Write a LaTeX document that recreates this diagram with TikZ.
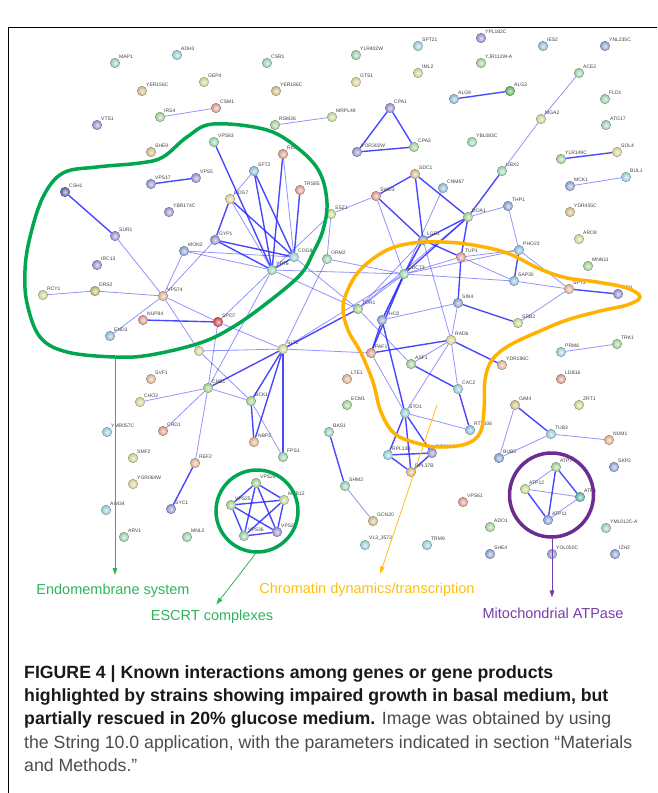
\documentclass[tikz,border=0pt]{standalone}
\usepackage{fontspec}
\setmainfont{Liberation Sans}
\usepackage{tikz}
\usetikzlibrary{arrows.meta}

\definecolor{edgeblue}{RGB}{40,40,255}
\definecolor{cmint}{HTML}{A3DBB8}
\definecolor{ccyan}{HTML}{9ED9E3}
\definecolor{ctan}{HTML}{DCC790}
\definecolor{cyg}{HTML}{CFE39A}
\definecolor{cgreen}{HTML}{ABDB9C}
\definecolor{csalmon}{HTML}{E6A394}
\definecolor{cslate}{HTML}{9A9ADB}
\definecolor{clblue}{HTML}{96C6E3}
\definecolor{cyellow}{HTML}{E3DE9F}
\definecolor{cpurple}{HTML}{A898DE}
\definecolor{cdblue}{HTML}{5A68B0}
\definecolor{cred}{HTML}{E04848}
\definecolor{cpeach}{HTML}{E9BC9C}
\definecolor{cdgreen}{HTML}{66BB66}
\definecolor{cteal}{HTML}{5FC0AE}
\definecolor{cblue}{HTML}{93A9DD}
\definecolor{colive}{HTML}{C9C275}
\definecolor{grpgreen}{RGB}{0,166,80}
\definecolor{grporange}{RGB}{255,179,0}
\definecolor{grppurple}{RGB}{108,45,145}
\definecolor{txtgreen}{RGB}{45,180,90}
\definecolor{txtorange}{RGB}{255,190,20}
\definecolor{txtpurple}{RGB}{120,60,170}

\pgfdeclarelayer{edges}
\pgfsetlayers{edges,main}

\begin{document}
\begin{tikzpicture}[x=1pt, y=-1pt,
    gene/.style={circle, minimum size=9.5pt, inner sep=0pt, line width=0.35pt,
        shading=radial, inner color=#1!30!white, outer color=#1!92!black, draw=#1!60!black},
    genename/.style={font=\fontsize{5}{5}\selectfont, text=black!75, inner sep=0.5pt},
    strong/.style={draw=edgeblue, line width=1.4pt, opacity=0.85},
    weak/.style={draw=edgeblue, line width=0.8pt, opacity=0.5},
    group/.style={line width=3.5pt},
    pointer/.style={line width=0.8pt, -{Triangle[length=7pt,width=4.5pt]}},
    tag/.style={font=\fontsize{14.5}{14.5}\selectfont, inner sep=0pt},
    caption/.style={font=\fontsize{17.7}{17.7}\selectfont, inner sep=0pt, anchor=base west}]
    \useasboundingbox (0,0) rectangle (657,793);

    % Frame
    \draw[black, line width=1pt] (8,793) -- (8,27) -- (657,27);

    % Nodes (left half)
    \node[gene=cmint, label={[genename]45:MAP1}] (map1) at (115,63) {};
    \node[gene=ccyan, label={[genename]45:ADH3}] (adh3) at (177,55) {};
    \node[gene=cmint, label={[genename]45:CSR1}] (csr1) at (267,63) {};
    \node[gene=ctan, label={[genename]45:YER156C}] (yer156c) at (142,91) {};
    \node[gene=cyg, label={[genename]45:GEP4}] (gep4) at (204,82) {};
    \node[gene=ctan, label={[genename]45:YER186C}] (yer186c) at (276,91) {};
    \node[gene=cgreen, label={[genename]45:IRS4}] (irs4) at (160,117) {};
    \node[gene=csalmon, label={[genename]45:CSM1}] (csm1) at (216,108) {};
    \node[gene=cslate, label={[genename]45:VTS1}] (vts1) at (97,125) {};
    \node[gene=cgreen, label={[genename]45:RSM26}] (rsm26) at (275,125) {};
    \node[gene=cmint, label={[genename]45:VPS63}] (vps63) at (214,142) {};
    \node[gene=ctan, label={[genename]45:SHE9}] (she9) at (151,152) {};
    \node[gene=csalmon, label={[genename]45:RIC1}] (ric1) at (283,154) {};
    \node[gene=clblue, label={[genename]45:SFT2}] (sft2) at (254,171) {};
    \node[gene=cslate, label={[genename]45:VPS17}] (vps17) at (151,184) {};
    \node[gene=cslate, label={[genename]45:VPS5}] (vps5) at (196,178) {};
    \node[gene=cdblue, label={[genename]45:CSH1}] (csh1) at (65,192) {};
    \node[gene=csalmon, label={[genename]45:TRS85}] (trs85) at (300,190) {};
    \node[gene=cyellow, label={[genename]45:COG7}] (cog7) at (230,199) {};
    \node[gene=cpurple, label={[genename]45:YBR174C}] (ybr174c) at (169,212) {};
    \node[gene=cslate, label={[genename]45:SUR1}] (sur1) at (115,236) {};
    \node[gene=cslate, label={[genename]45:GYP1}] (gyp1) at (215,240) {};
    \node[gene=cblue, label={[genename]45:MON2}] (mon2) at (184,251) {};
    \node[gene=ccyan, label={[genename]45:COG8}] (cog8) at (294,257) {};
    \node[gene=cmint, label={[genename]45:YPT6}] (ypt6) at (272,270) {};
    \node[gene=cslate, label={[genename]45:IRC13}] (irc13) at (97,265) {};
    \node[gene=cmint, label={[genename]45:ORM2}] (orm2) at (327,259) {};
    \node[gene=cyg, label={[genename]45:RCY1}] (rcy1) at (43,295) {};
    \node[gene=colive, label={[genename]45:DRS2}] (drs2) at (95,291) {};
    \node[gene=cpeach, label={[genename]45:VPS74}] (vps74) at (163,296) {};
    \node[gene=csalmon, label={[genename]45:NUP84}] (nup84) at (143,320) {};
    \node[gene=cred, label={[genename]45:SPO7}] (spo7) at (218,322) {};
    \node[gene=clblue, label={[genename]45:END3}] (end3) at (110,336) {};
    \node[gene=cyellow] (hidden) at (199,351) {};
    \node[gene=cyellow, label={[genename]45:SLT2}] (slt2) at (283,349) {};
    \node[gene=cpeach, label={[genename]45:SVF1}] (svf1) at (151,379) {};
    \node[gene=cgreen, label={[genename]45:CNB1}] (cnb1) at (208,388) {};
    \node[gene=cyellow, label={[genename]45:CHO2}] (cho2) at (140,402) {};
    \node[gene=cgreen, label={[genename]45:BCK1}] (bck1) at (251,401) {};
    \node[gene=ccyan, label={[genename]45:YMR057C}] (ymr057c) at (107,432) {};
    \node[gene=csalmon, label={[genename]45:CRD1}] (crd1) at (163,431) {};
    \node[gene=cpeach, label={[genename]45:NBP2}] (nbp2) at (254,442) {};
    \node[gene=cmint, label={[genename]45:FPS1}] (fps1) at (283,457) {};
    \node[gene=cyg, label={[genename]45:SMF2}] (smf2) at (133,458) {};
    \node[gene=cpeach, label={[genename]45:REF2}] (ref2) at (195,463) {};
    \node[gene=cgreen, label={[genename]45:VPS24}] (vps24) at (256,483) {};
    \node[gene=cyellow, label={[genename]45:YGR064W}] (ygr064w) at (133,484) {};
    \node[gene=cyg, label={[genename]45:MVB12}] (mvb12) at (284,500) {};
    \node[gene=cgreen, label={[genename]45:VPS25}] (vps25) at (231,505) {};
    \node[gene=ccyan, label={[genename]45:AIM34}] (aim34) at (106,510) {};
    \node[gene=cslate, label={[genename]45:SYC1}] (syc1) at (171,509) {};
    \node[gene=cmint, label={[genename]45:VPS36}] (vps36) at (244,536) {};
    \node[gene=cslate, label={[genename]45:VPS28}] (vps28) at (277,532) {};
    \node[gene=cmint, label={[genename]45:ARV1}] (arv1) at (124,537) {};
    \node[gene=cmint, label={[genename]45:MNL2}] (mnl2) at (187,537) {};

    % Nodes (right half)
    \node[gene=cslate, label={[genename]45:YPL182C}] (ypl182c) at (481,38) {};
    \node[gene=ccyan, label={[genename]45:SPT21}] (spt21) at (418,46) {};
    \node[gene=clblue, label={[genename]45:IES2}] (ies2) at (543,46) {};
    \node[gene=cblue, label={[genename]45:YNL235C}] (ynl235c) at (605,46) {};
    \node[gene=cmint, label={[genename]45:YLR402W}] (ylr402w) at (356,55) {};
    \node[gene=cgreen, label={[genename]45:YJR112W-A}] (yjr112wa) at (481,63) {};
    \node[gene=cyg, label={[genename]45:IML2}] (iml2) at (418,73) {};
    \node[gene=cmint, label={[genename]45:ACE2}] (ace2) at (579,73) {};
    \node[gene=cyellow, label={[genename]45:GTS1}] (gts1) at (356,82) {};
    \node[gene=clblue, label={[genename]45:ALG9}] (alg9) at (454,99) {};
    \node[gene=cdgreen, label={[genename]45:ALG3}] (alg3) at (510,91) {};
    \node[gene=cmint, label={[genename]45:FLD1}] (fld1) at (605,99) {};
    \node[gene=cslate, label={[genename]45:CPA1}] (cpa1) at (390,108) {};
    \node[gene=cyg, label={[genename]45:MRPL49}] (mrpl49) at (332,117) {};
    \node[gene=cyg, label={[genename]45:MGA2}] (mga2) at (541,119) {};
    \node[gene=cmint, label={[genename]45:ATG17}] (atg17) at (606,125) {};
    \node[gene=cgreen, label={[genename]45:CPA2}] (cpa2) at (414,147) {};
    \node[gene=cslate, label={[genename]45:YOR302W}] (yor302w) at (357,152) {};
    \node[gene=cmint, label={[genename]45:YBL083C}] (ybl083c) at (472,142) {};
    \node[gene=cgreen, label={[genename]45:YLR149C}] (ylr149c) at (561,159) {};
    \node[gene=cyellow, label={[genename]45:SOL4}] (sol4) at (617,152) {};
    \node[gene=cmint, label={[genename]45:UBX2}] (ubx2) at (502,171) {};
    \node[gene=ctan, label={[genename]45:SDC1}] (sdc1) at (415,174) {};
    \node[gene=clblue, label={[genename]45:CNM67}] (cnm67) at (443,188) {};
    \node[gene=ccyan, label={[genename]45:BUL1}] (bul1) at (626,177) {};
    \node[gene=cblue, label={[genename]45:MCK1}] (mck1) at (570,186) {};
    \node[gene=csalmon, label={[genename]45:SWD3}] (swd3) at (376,196) {};
    \node[gene=cyg, label={[genename]45:SSZ1}] (ssz1) at (331,214) {};
    \node[gene=cblue, label={[genename]45:THP1}] (thp1) at (508,206) {};
    \node[gene=cgreen, label={[genename]45:DOA1}] (doa1) at (468,217) {};
    \node[gene=ctan, label={[genename]45:YDR455C}] (ydr455c) at (570,212) {};
    \node[gene=cblue, label={[genename]45:LGE1}] (lge1) at (423,240) {};
    \node[gene=clblue, label={[genename]45:PHO23}] (pho23) at (519,250) {};
    \node[gene=cyellow, label={[genename]45:ARO8}] (aro8) at (579,239) {};
    \node[gene=csalmon, label={[genename]45:TUP1}] (tup1) at (461,257) {};
    \node[gene=cgreen, label={[genename]45:MNN11}] (mnn11) at (588,266) {};
    \node[gene=cmint, label={[genename]45:CDC73}] (cdc73) at (404,274) {};
    \node[gene=clblue, label={[genename]45:SAP30}] (sap30) at (514,281) {};
    \node[gene=cpeach, label={[genename]45:SPT3}] (spt3) at (569,289) {};
    \node[gene=cslate, label={[genename]45:HFI1}] (hfi1) at (618,294) {};
    \node[gene=cblue, label={[genename]45:SIN4}] (sin4) at (458,303) {};
    \node[gene=cgreen, label={[genename]45:TOR1}] (tor1) at (358,309) {};
    \node[gene=cblue, label={[genename]45:THO2}] (tho2) at (382,320) {};
    \node[gene=cyg, label={[genename]45:SRB2}] (srb2) at (518,323) {};
    \node[gene=cyellow, label={[genename]45:RAD6}] (rad6) at (451,340) {};
    \node[gene=cgreen, label={[genename]45:TRK1}] (trk1) at (617,344) {};
    \node[gene=ccyan, label={[genename]45:PRM6}] (prm6) at (561,352) {};
    \node[gene=csalmon, label={[genename]45:PAF1}] (paf1) at (371,353) {};
    \node[gene=cgreen, label={[genename]45:ASF1}] (asf1) at (411,364) {};
    \node[gene=cpeach, label={[genename]45:YDR186C}] (ydr186c) at (502,365) {};
    \node[gene=cpeach, label={[genename]45:LTE1}] (lte1) at (347,379) {};
    \node[gene=csalmon, label={[genename]45:LDB16}] (ldb16) at (561,379) {};
    \node[gene=ccyan, label={[genename]45:CAC2}] (cac2) at (458,389) {};
    \node[gene=cgreen, label={[genename]45:ECM1}] (ecm1) at (347,405) {};
    \node[gene=ctan, label={[genename]45:GIM4}] (gim4) at (515,405) {};
    \node[gene=cyg, label={[genename]45:ZRT1}] (zrt1) at (579,405) {};
    \node[gene=ccyan, label={[genename]45:STO1}] (sto1) at (405,413) {};
    \node[gene=cmint, label={[genename]45:BAS1}] (bas1) at (329,432) {};
    \node[gene=clblue, label={[genename]45:RTT106}] (rtt106) at (470,430) {};
    \node[gene=ccyan, label={[genename]45:TUB3}] (tub3) at (551,434) {};
    \node[gene=cpeach, label={[genename]45:NUM1}] (num1) at (609,440) {};
    \node[gene=ccyan, label={[genename]45:RPL13B}] (rpl13b) at (388,455) {};
    \node[gene=cslate, label={[genename]45:RPS10A}] (rps10a) at (432,453) {};
    \node[gene=cblue, label={[genename]45:BUB3}] (bub3) at (499,458) {};
    \node[gene=cblue, label={[genename]45:SKP2}] (skp2) at (614,467) {};
    \node[gene=cgreen, label={[genename]45:ATP7}] (atp7) at (556,467) {};
    \node[gene=ctan, label={[genename]45:RPL37B}] (rpl37b) at (411,472) {};
    \node[gene=cmint, label={[genename]45:SHM2}] (shm2) at (345,486) {};
    \node[gene=cyg, label={[genename]45:ATP12}] (atp12) at (525,489) {};
    \node[gene=cteal, label={[genename]45:ATP1}] (atp1) at (580,497) {};
    \node[gene=csalmon, label={[genename]45:VPS61}] (vps61) at (463,502) {};
    \node[gene=cblue, label={[genename]45:ATP11}] (atp11) at (548,520) {};
    \node[gene=ctan, label={[genename]45:GCN20}] (gcn20) at (373,521) {};
    \node[gene=cgreen, label={[genename]45:ADO1}] (ado1) at (490,527) {};
    \node[gene=cmint, label={[genename]45:YML012C-A}] (yml012ca) at (606,528) {};
    \node[gene=ccyan, label={[genename]45:VL3\_3573}] (vl3) at (365,545) {};
    \node[gene=ccyan, label={[genename]45:TRM9}] (trm9) at (427,545) {};
    \node[gene=cblue, label={[genename]45:SHE4}] (she4) at (490,554) {};
    \node[gene=cblue, label={[genename]45:YOL050C}] (yol050c) at (552,554) {};
    \node[gene=cblue, label={[genename]45:IZH2}] (izh2) at (615,554) {};

    % Edges
    \begin{pgfonlayer}{edges}
    \draw[weak] (irs4) -- (csm1);
    \draw[weak] (rsm26) -- (mrpl49);
    \draw[strong] (vps17) -- (vps5);
    \draw[strong] (alg9) -- (alg3);
    \draw[strong] (cpa1) -- (cpa2);
    \draw[strong] (cpa1) -- (yor302w);
    \draw[strong] (yor302w) -- (cpa2);
    \draw[weak] (ace2) -- (mga2);
    \draw[weak] (mga2) -- (ubx2);
    \draw[strong] (ubx2) -- (doa1);
    \draw[strong] (ylr149c) -- (sol4);
    \draw[weak] (mck1) -- (bul1);
    \draw[weak] (prm6) -- (trk1);
    \draw[strong] (bas1) -- (shm2);
    \draw[weak] (shm2) -- (gcn20);
    \draw[strong] (csh1) -- (sur1);
    \draw[weak] (sur1) -- (vps74);
    \draw[weak] (rcy1) -- (drs2);
    \draw[weak] (drs2) -- (vps74);
    \draw[weak] (vps74) -- (mon2);
    \draw[weak] (vps74) -- (gyp1);
    \draw[weak] (vps74) -- (end3);
    \draw[weak] (vps74) -- (spo7);
    \draw[weak] (vps74) -- (hidden);
    \draw[strong] (nup84) -- (spo7);
    \draw[weak] (spo7) -- (ypt6);
    \draw[weak] (spo7) -- (slt2);
    \draw[weak] (spo7) -- (cnb1);
    \draw[weak] (hidden) -- (slt2);
    \draw[weak] (hidden) -- (bck1);
    \draw[weak] (slt2) -- (paf1);
    \draw[weak] (cnb1) -- (cho2);
    \draw[weak] (cnb1) -- (bck1);
    \draw[strong] (cnb1) -- (slt2);
    \draw[weak] (cnb1) -- (crd1);
    \draw[weak] (cnb1) -- (ref2);
    \draw[weak] (cnb1) -- (ypt6);
    \draw[strong] (ref2) -- (syc1);
    \draw[strong] (slt2) -- (bck1);
    \draw[strong] (slt2) -- (nbp2);
    \draw[strong] (slt2) -- (fps1);
    \draw[strong] (bck1) -- (nbp2);
    \draw[weak] (bck1) -- (fps1);
    \draw[strong] (slt2) -- (tor1);
    \draw[weak] (slt2) -- (cdc73);
    \draw[weak] (orm2) -- (slt2);
    \draw[strong] (vps63) -- (ypt6);
    \draw[weak] (sft2) -- (cog7);
    \draw[strong] (sft2) -- (ypt6);
    \draw[strong] (sft2) -- (cog8);
    \draw[strong] (ric1) -- (ypt6);
    \draw[weak] (ric1) -- (cog8);
    \draw[strong] (trs85) -- (cog8);
    \draw[strong] (cog7) -- (gyp1);
    \draw[strong] (cog7) -- (cog8);
    \draw[weak] (cog7) -- (ypt6);
    \draw[strong] (gyp1) -- (ypt6);
    \draw[strong] (gyp1) -- (cog8);
    \draw[weak] (mon2) -- (cog8);
    \draw[weak] (mon2) -- (ypt6);
    \draw[strong] (cog8) -- (ypt6);
    \draw[weak] (ssz1) -- (ypt6);
    \draw[weak] (ssz1) -- (orm2);
    \draw[weak] (ssz1) -- (swd3);
    \draw[weak] (ypt6) -- (tor1);
    \draw[weak] (ypt6) -- (cdc73);
    \draw[weak] (cog8) -- (tor1);
    \draw[weak] (orm2) -- (cdc73);
    \draw[strong] (swd3) -- (sdc1);
    \draw[strong] (swd3) -- (lge1);
    \draw[weak] (swd3) -- (cdc73);
    \draw[strong] (sdc1) -- (lge1);
    \draw[strong] (sdc1) -- (doa1);
    \draw[weak] (cnm67) -- (cdc73);
    \draw[strong] (doa1) -- (lge1);
    \draw[strong] (doa1) -- (cdc73);
    \draw[strong] (doa1) -- (tup1);
    \draw[weak] (doa1) -- (tor1);
    \draw[weak] (doa1) -- (thp1);
    \draw[strong] (lge1) -- (tup1);
    \draw[strong] (lge1) -- (cdc73);
    \draw[weak] (lge1) -- (rad6);
    \draw[weak] (lge1) -- (tor1);
    \draw[weak] (lge1) -- (tho2);
    \draw[weak] (tup1) -- (cdc73);
    \draw[strong] (tup1) -- (sin4);
    \draw[weak] (tup1) -- (pho23);
    \draw[weak] (tup1) -- (sap30);
    \draw[weak] (thp1) -- (pho23);
    \draw[strong] (pho23) -- (sap30);
    \draw[weak] (pho23) -- (spt3);
    \draw[weak] (cdc73) -- (pho23);
    \draw[weak] (cdc73) -- (sap30);
    \draw[weak] (sap30) -- (spt3);
    \draw[strong] (spt3) -- (hfi1);
    \draw[weak] (spt3) -- (srb2);
    \draw[strong] (sin4) -- (srb2);
    \draw[weak] (sin4) -- (rad6);
    \draw[weak] (sin4) -- (tho2);
    \draw[strong] (cdc73) -- (tho2);
    \draw[weak] (cdc73) -- (tor1);
    \draw[strong] (cdc73) -- (paf1);
    \draw[strong] (tho2) -- (paf1);
    \draw[strong] (tho2) -- (sto1);
    \draw[weak] (tor1) -- (asf1);
    \draw[strong] (rad6) -- (paf1);
    \draw[weak] (rad6) -- (asf1);
    \draw[weak] (rad6) -- (cac2);
    \draw[weak] (rad6) -- (sto1);
    \draw[strong] (rad6) -- (ydr186c);
    \draw[strong] (asf1) -- (cac2);
    \draw[strong] (cac2) -- (rtt106);
    \draw[weak] (sto1) -- (rtt106);
    \draw[weak] (paf1) -- (sto1);
    \draw[strong] (sto1) -- (rpl13b);
    \draw[strong] (sto1) -- (rps10a);
    \draw[strong] (sto1) -- (rpl37b);
    \draw[strong] (rpl13b) -- (rps10a);
    \draw[strong] (rpl13b) -- (rpl37b);
    \draw[strong] (rps10a) -- (rpl37b);
    \draw[strong] (gim4) -- (tub3);
    \draw[weak] (gim4) -- (bub3);
    \draw[weak] (tub3) -- (bub3);
    \draw[weak] (tub3) -- (num1);
    \draw[weak] (atp7) -- (atp12);
    \draw[strong] (atp7) -- (atp1);
    \draw[strong] (atp7) -- (atp11);
    \draw[weak] (atp12) -- (atp1);
    \draw[strong] (atp12) -- (atp11);
    \draw[weak] (atp1) -- (atp11);
    \draw[strong] (vps24) -- (vps25);
    \draw[strong] (vps24) -- (mvb12);
    \draw[strong] (vps24) -- (vps36);
    \draw[strong] (vps24) -- (vps28);
    \draw[strong] (vps25) -- (mvb12);
    \draw[strong] (vps25) -- (vps36);
    \draw[strong] (vps25) -- (vps28);
    \draw[strong] (mvb12) -- (vps36);
    \draw[strong] (mvb12) -- (vps28);
    \draw[strong] (vps36) -- (vps28);
    \end{pgfonlayer}

    % Groups
    \draw[group, grpgreen] plot[smooth cycle, tension=0.6] coordinates {
        (213,124) (267,130) (300,150) (320,173) (327,203) (323,230) (313,253)
        (300,275) (267,303) (233,327) (200,343) (150,355) (115,357) (67,352)
        (40,337) (27,303) (25,270) (30,237) (43,197) (63,173) (97,167)
        (140,163) (163,157) (187,137)};
    \draw[group, grporange] plot[smooth cycle, tension=0.6] coordinates {
        (343,307) (350,285) (363,267) (387,250) (413,243) (443,242) (473,245)
        (507,253) (540,269) (567,278) (597,282) (627,288) (640,297) (627,305)
        (600,311) (567,320) (540,331) (510,345) (492,360) (485,380) (484,410)
        (480,433) (466,444) (440,447) (420,444) (395,434) (381,412) (373,382)
        (361,353) (348,330)};
    \draw[group, grpgreen] (257,511) circle[radius=41];
    \draw[group, grppurple] (551.5,495) circle[radius=42];

    % Labels
    \node[tag, text=txtgreen] (emtext) at (113,591) {Endomembrane system};
    \node[tag, text=txtgreen] (esctext) at (212,617) {ESCRT complexes};
    \node[tag, text=txtorange] (chtext) at (367,590) {Chromatin dynamics/transcription};
    \node[tag, text=txtpurple] (mitotext) at (553,613) {Mitochondrial ATPase};
    \coordinate (emstart) at (115,357);
    \coordinate (escstart) at (256,553);
    \coordinate (chstart) at (437,405);
    \coordinate (mitostart) at (552,537);
    \draw[pointer, txtgreen, shorten >=9pt] (emstart) -- (emtext.north -| emstart);
    \draw[pointer, txtgreen, shorten >=7pt] (escstart) -- (esctext.north);
    \draw[pointer, txtorange, shorten >=10pt] (chstart) -- ([xshift=10pt]chtext.north);
    \draw[pointer, txtpurple, shorten >=10pt] (mitostart) -- (mitotext.north -| mitostart);

    % Caption
    \node[caption, text=black!90] (cap1) at (24,678) {\textbf{FIGURE 4 | Known interactions among genes or gene products}};
    \node[caption, text=black!90] (cap2) at (24,701) {\textbf{highlighted by strains showing impaired growth in basal medium, but}};
    \node[caption, text=black!90] (cap3) at (24,724) {\textbf{partially rescued in 20\% glucose medium.} \textcolor{black!70}{Image was obtained by using}};
    \node[caption, text=black!70] (cap4) at (24,748) {the String 10.0 application, with the parameters indicated in section “Materials};
    \node[caption, text=black!70] (cap5) at (24,771) {and Methods.”};
\end{tikzpicture}
\end{document}
